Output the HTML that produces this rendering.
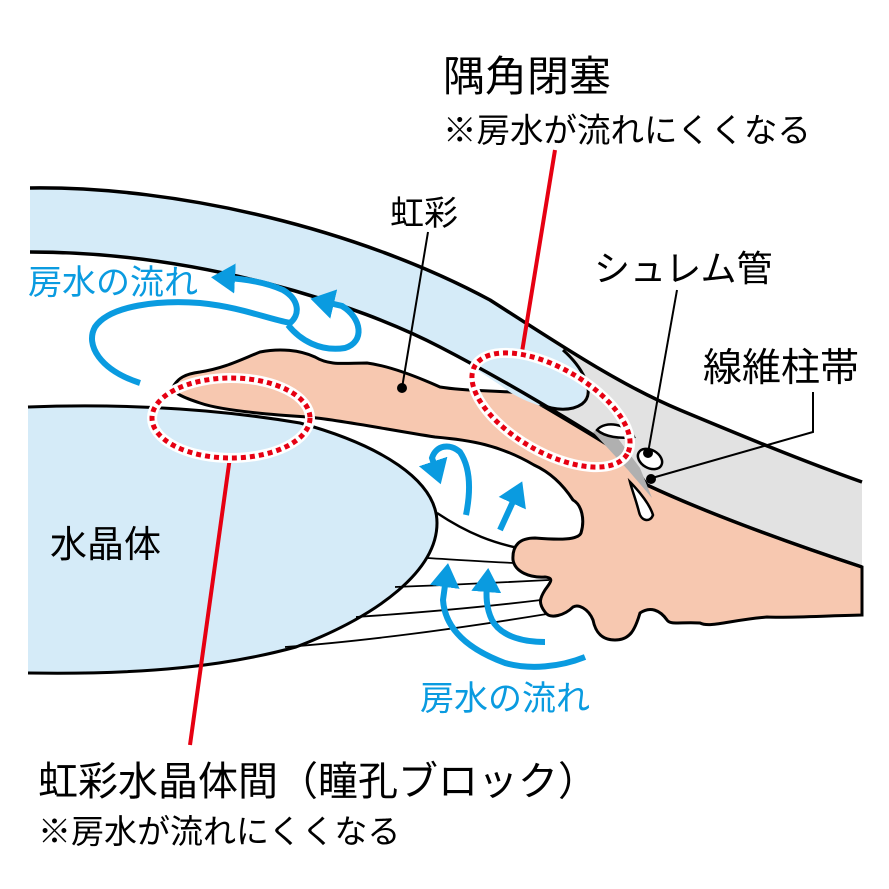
<!DOCTYPE html>
<html><head><meta charset="utf-8"><style>
html,body{margin:0;padding:0;background:#fff;}
svg{display:block}
text{font-family:"Liberation Sans","Noto Sans CJK JP",sans-serif;}
</style></head><body>
<svg width="889" height="889" viewBox="0 0 889 889" xmlns="http://www.w3.org/2000/svg">
<defs>
<marker id="ah" markerWidth="5" markerHeight="5" refX="1.5" refY="2.5" orient="auto" markerUnits="strokeWidth">
<path d="M0,0 L4,2.5 L0,5 Z" fill="#0a9be0"/>
</marker>
</defs>
<rect width="889" height="889" fill="#fff"/>
<!-- gray band -->
<path d="M490,300 C560,345 620,385 680,410 C740,435 800,460 862,482 L862,567 C780,540 700,510 647,485 L627,457 C580,425 520,385 490,368 Z" fill="#e2e2e2"/>
<!-- lens -->
<path d="M28,407 C100,404 200,406 300,423 C380,445 437,480 437,523 C437,570 380,615 296,647 C230,665 150,675 28,673 Z" fill="#d5ebf8"/>
<path d="M28,407 C100,404 200,406 300,423 C380,445 437,480 437,523 C437,570 380,615 296,647 C230,665 150,675 28,673" fill="none" stroke="#000" stroke-width="3"/>
<!-- posterior chamber line and zonules -->
<path d="M437,513 C470,535 495,543 518,548" fill="none" stroke="#000" stroke-width="2.5"/>
<path d="M427,558 C460,560 490,562 514,563 M395,587 C450,585 510,582 549,580 M356,617 C430,612 500,605 541,600 M285,647 C380,640 480,625 553,613" fill="none" stroke="#000" stroke-width="1.8"/>
<!-- iris / ciliary body -->
<path d="M173,387 C178,378 185,374 200,372 C225,368 240,360 260,352 C280,348 300,350 315,357 C330,366 345,363 367,363 C390,366 420,378 440,387 C470,392 500,390 520,393 C550,410 600,440 627,457 L647,485 C700,510 780,540 862,567 L862,615 C820,616 790,618 767,617 C730,620 710,628 700,623 C680,622 670,625 667,620 C660,610 650,606 640,613 C635,630 630,640 615,640 C600,640 595,630 593,620 C588,608 578,604 573,607 C565,615 550,620 545,612 C538,603 540,598 545,590 C550,583 555,578 545,577 C530,578 515,572 513,560 C512,545 520,538 535,538 C560,540 578,540 581,533 C585,520 582,505 573,500 C560,480 545,470 534,465 C500,445 470,440 435,437 C390,430 340,420 308,417 C260,414 220,410 200,403 C185,398 172,393 173,387 Z" fill="#f7c8b0" stroke="#000" stroke-width="3"/>
<!-- cornea blue -->
<path d="M30,188 C180,186 360,230 490,300 C520,318 545,335 563,350 C580,365 595,390 580,404 C570,410 560,410 550,409 C530,403 515,397 500,385 C480,372 460,358 440,347 C360,305 200,252 30,252 Z" fill="#d5ebf8"/>
<!-- cornea lines -->
<path d="M30,188 C180,186 360,230 490,300 C560,345 620,385 680,410 C740,435 800,460 862,482" fill="none" stroke="#000" stroke-width="3.5"/>
<path d="M30,252 C200,252 360,305 440,347 C500,378 580,425 627,457 L647,485 C700,510 780,540 862,567" fill="none" stroke="#000" stroke-width="3.5"/>
<path d="M563,350 C580,365 598,392 582,404 C572,411 555,411 540,404" fill="none" stroke="#000" stroke-width="3"/>
<!-- dark gray patch and canal -->
<path d="M593,432 L608,425 L640,468 L652,498 L628,470 Z" fill="#b0b0b0"/>
<path d="M597,430 C605,420 628,424 634,437 C620,439 605,437 597,430 Z" fill="#fff" stroke="#000" stroke-width="2.5"/>
<ellipse cx="650" cy="459" rx="13" ry="9" transform="rotate(30 650 459)" fill="#fff" stroke="#000" stroke-width="2.5"/>
<path d="M630,482 C640,492 650,505 653,515 C650,523 641,521 639,512 C636,500 632,490 630,482 Z" fill="#fff" stroke="#000" stroke-width="2.5"/>
<!-- blue arrows -->
<g fill="none" stroke="#0a9be0" stroke-width="6" stroke-linecap="butt">
<path d="M140,383 C100,370 85,345 95,327 C110,305 160,300 200,303 C240,307 265,318 290,323 C300,315 300,300 283,290 C265,282 245,279 226,278" marker-end="url(#ah)"/>
<path d="M288,325 C300,340 320,352 345,348 C365,342 362,318 342,306 L325,302" marker-end="url(#ah)"/>
<path d="M466,515 C470,495 472,470 460,452 C450,443 436,445 432,458 L436,470" marker-end="url(#ah)"/>
<path d="M500,530 L516,495" marker-end="url(#ah)"/>
<path d="M585,657 C560,667 530,670 505,663 C470,650 445,630 443,600 L446,578" marker-end="url(#ah)"/>
<path d="M545,642 C520,642 500,635 492,620 C486,608 486,595 487,583" marker-end="url(#ah)"/>
</g>
<!-- red lines and ellipses -->
<path d="M555,150 L522,352" stroke="#e60012" stroke-width="4"/>
<path d="M230,457 L190,745" stroke="#e60012" stroke-width="4"/>
<ellipse cx="231" cy="418" rx="79" ry="40" fill="none" stroke="#fff" stroke-width="10"/>
<ellipse cx="231" cy="418" rx="79" ry="40" fill="none" stroke="#e60012" stroke-width="5" stroke-dasharray="5 4"/>
<ellipse cx="551" cy="410" rx="88" ry="42" transform="rotate(30 551 410)" fill="none" stroke="#fff" stroke-width="10"/>
<ellipse cx="551" cy="410" rx="88" ry="42" transform="rotate(30 551 410)" fill="none" stroke="#e60012" stroke-width="5" stroke-dasharray="5 4"/>
<!-- leaders -->
<path d="M428,232 L402,388" stroke="#000" stroke-width="2"/>
<circle cx="402" cy="388" r="5"/>
<path d="M677,290 L648,453" stroke="#000" stroke-width="2"/>
<circle cx="648" cy="453" r="5"/>
<path d="M813,392 L813,432 L652,478" fill="none" stroke="#000" stroke-width="2"/>
<circle cx="651" cy="479" r="5"/>
<!-- text -->
<text x="443" y="91" font-size="42">隅角閉塞</text>
<text x="443" y="142" font-size="33.5">※房水が流れにくくなる</text>
<text x="390" y="225" font-size="34">虹彩</text>
<text x="594" y="281" font-size="36">シュレム管</text>
<text x="703" y="381" font-size="39">線維柱帯</text>
<text x="28" y="294" font-size="34" fill="#0a9be0">房水の流れ</text>
<text x="50" y="557" font-size="37">水晶体</text>
<text x="420" y="710" font-size="34" fill="#0a9be0">房水の流れ</text>
<text x="38" y="795" font-size="40">虹彩水晶体間（瞳孔ブロック）</text>
<text x="38" y="843" font-size="33">※房水が流れにくくなる</text>
</svg>
</body></html>
